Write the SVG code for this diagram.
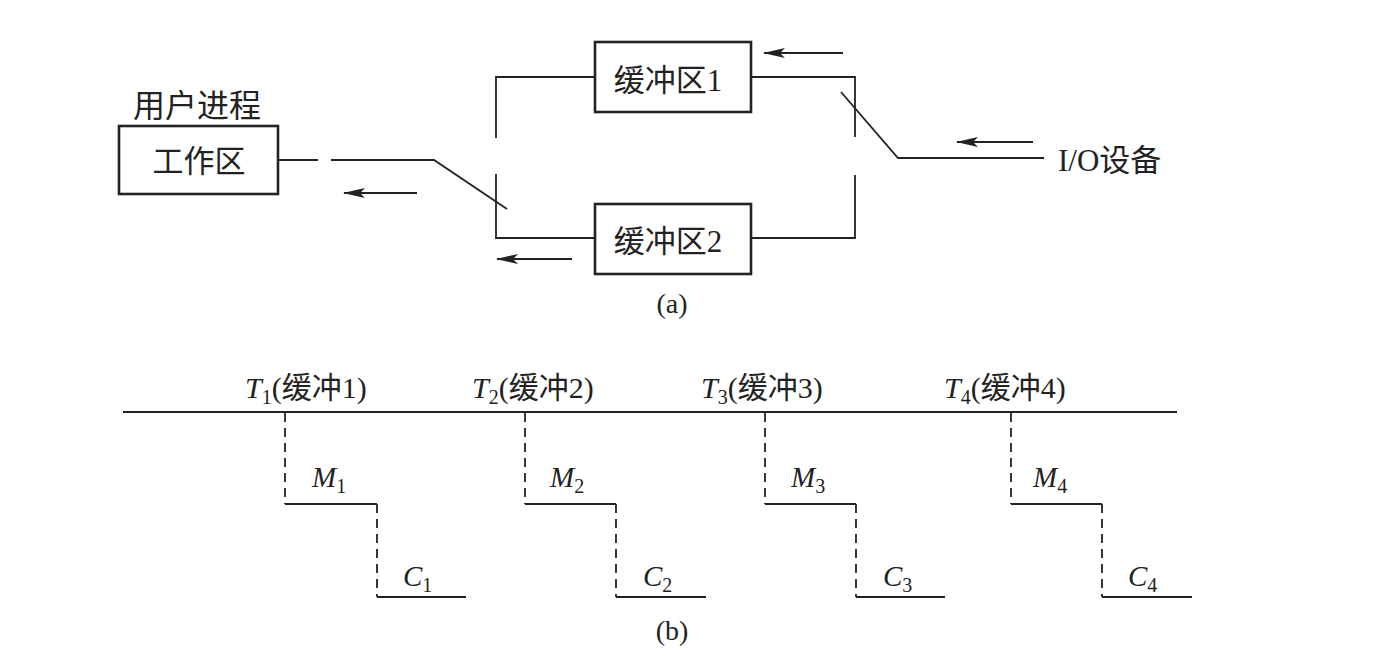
<svg xmlns="http://www.w3.org/2000/svg" width="1384" height="672" viewBox="0 0 1384 672">
<style>
.box{fill:#fff;stroke:#222;stroke-width:2.6}
.ln{fill:none;stroke:#222;stroke-width:1.8}
.dash{fill:none;stroke:#222;stroke-width:1.8;stroke-dasharray:9 6}
.arr{fill:none;stroke:#222;stroke-width:2;marker-end:url(#ah)}
.t{font-family:"Liberation Serif","Noto Sans CJK SC",serif;font-size:29px;fill:#222}
.lb{font-size:30px}
.it{font-style:italic}
.sub{font-size:20px}
</style>
<defs>
<marker id="ah" viewBox="0 0 22 10" refX="21" refY="5" markerWidth="22" markerHeight="10" markerUnits="userSpaceOnUse" orient="auto">
<path d="M0,0 L22,5 L0,10 L5,5 z" fill="#222"/>
</marker>
</defs>
<rect width="1384" height="672" fill="#fff"/>

<g id="user-process">
<text class="t" x="133" y="117" style="font-size:32px">用户进程</text>
<rect class="box" x="119" y="126" width="159" height="68"/>
<text class="t" x="199" y="172" text-anchor="middle" style="font-size:31px">工作区</text>
</g>

<g id="buffer1">
<rect class="box" x="595" y="42" width="156" height="70"/>
<text class="t" x="668" y="91" text-anchor="middle" style="font-size:31px">缓冲区1</text>
</g>

<g id="buffer2">
<rect class="box" x="595" y="204" width="156" height="70"/>
<text class="t" x="668" y="252" text-anchor="middle" style="font-size:31px">缓冲区2</text>
</g>

<g id="io-device">
<text class="t" x="1058" y="171" style="font-size:31px">I/O设备</text>
</g>

<g id="connectors">
<line class="ln" x1="278" y1="160" x2="318" y2="160"/>
<polyline class="ln" points="331,160 434,160 507,209"/>
<polyline class="ln" points="496,138 496,77 595,77"/>
<polyline class="ln" points="496,174 496,238 595,238"/>
<polyline class="ln" points="751,77 855,77 855,137"/>
<polyline class="ln" points="855,175 855,238 751,238"/>
<polyline class="ln" points="841,92 898,158 1044,158"/>
<line class="arr" x1="417" y1="193" x2="344" y2="193"/>
<line class="arr" x1="572" y1="259" x2="497" y2="259"/>
<line class="arr" x1="843" y1="53" x2="764" y2="53"/>
<line class="arr" x1="1033" y1="142" x2="957" y2="142"/>
</g>

<text class="t" x="672" y="313" text-anchor="middle" style="font-size:28px">(a)</text>

<g id="timeline">
<line class="ln" x1="123" y1="412" x2="1177" y2="412"/>
<line class="dash" x1="285" y1="413" x2="285" y2="504"/>
<polyline class="ln" points="285,504 377,504"/>
<line class="dash" x1="377" y1="504" x2="377" y2="597"/>
<polyline class="ln" points="377,597 466,597"/>

<line class="dash" x1="525" y1="413" x2="525" y2="504"/>
<polyline class="ln" points="525,504 616,504"/>
<line class="dash" x1="616" y1="504" x2="616" y2="597"/>
<polyline class="ln" points="616,597 706,597"/>

<line class="dash" x1="765" y1="413" x2="765" y2="504"/>
<polyline class="ln" points="765,504 856,504"/>
<line class="dash" x1="856" y1="504" x2="856" y2="597"/>
<polyline class="ln" points="856,597 945,597"/>

<line class="dash" x1="1011" y1="413" x2="1011" y2="504"/>
<polyline class="ln" points="1011,504 1102,504"/>
<line class="dash" x1="1102" y1="504" x2="1102" y2="597"/>
<polyline class="ln" points="1102,597 1192,597"/>

<text class="t lb" x="245" y="398"><tspan class="it">T</tspan><tspan class="sub" dy="6">1</tspan><tspan dy="-6">(缓冲1)</tspan></text>
<text class="t lb" x="472" y="398"><tspan class="it">T</tspan><tspan class="sub" dy="6">2</tspan><tspan dy="-6">(缓冲2)</tspan></text>
<text class="t lb" x="701" y="398"><tspan class="it">T</tspan><tspan class="sub" dy="6">3</tspan><tspan dy="-6">(缓冲3)</tspan></text>
<text class="t lb" x="944" y="398"><tspan class="it">T</tspan><tspan class="sub" dy="6">4</tspan><tspan dy="-6">(缓冲4)</tspan></text>

<text class="t" x="312" y="487"><tspan class="it">M</tspan><tspan class="sub" dy="6">1</tspan></text>
<text class="t" x="550" y="487"><tspan class="it">M</tspan><tspan class="sub" dy="6">2</tspan></text>
<text class="t" x="791" y="487"><tspan class="it">M</tspan><tspan class="sub" dy="6">3</tspan></text>
<text class="t" x="1033" y="487"><tspan class="it">M</tspan><tspan class="sub" dy="6">4</tspan></text>

<text class="t" x="403" y="586"><tspan class="it">C</tspan><tspan class="sub" dy="6">1</tspan></text>
<text class="t" x="643" y="586"><tspan class="it">C</tspan><tspan class="sub" dy="6">2</tspan></text>
<text class="t" x="883" y="586"><tspan class="it">C</tspan><tspan class="sub" dy="6">3</tspan></text>
<text class="t" x="1128" y="586"><tspan class="it">C</tspan><tspan class="sub" dy="6">4</tspan></text>
</g>

<text class="t" x="672" y="640" text-anchor="middle" style="font-size:28px">(b)</text>
</svg>
